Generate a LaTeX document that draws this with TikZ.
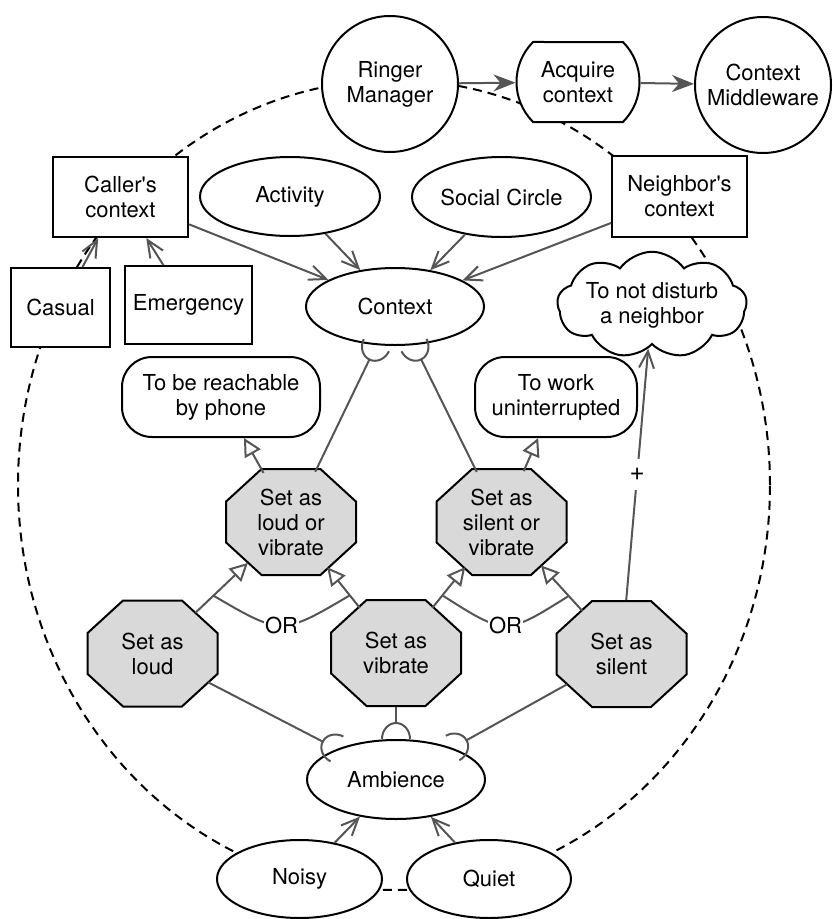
\documentclass[tikz,border=0pt]{standalone}
\usepackage{fontspec}
\setmainfont{TeX Gyre Heros}
\usetikzlibrary{shapes.geometric,shapes.misc,shapes.symbols,arrows.meta,calc}
\definecolor{linegray}{RGB}{85,85,85}
\definecolor{taskfill}{RGB}{217,217,217}

% octagon with unequal width and height; borders follow the inscribed ellipse
\makeatletter
\newdimen\octrx \newdimen\octry \newdimen\octax \newdimen\octay
\newdimen\octox \newdimen\octoy
\pgfdeclareshape{octabox}{%
  \inheritsavedanchors[from=ellipse]%
  \inheritanchor[from=ellipse]{center}%
  \inheritanchor[from=ellipse]{north}%
  \inheritanchor[from=ellipse]{south}%
  \inheritanchor[from=ellipse]{east}%
  \inheritanchor[from=ellipse]{west}%
  \inheritanchorborder[from=ellipse]%
  \backgroundpath{%
    \pgf@process{\radius}%
    \octrx=\pgf@x \octry=\pgf@y
    \pgfmathsetlength\octox{\pgfkeysvalueof{/pgf/outer xsep}}%
    \pgfmathsetlength\octoy{\pgfkeysvalueof{/pgf/outer ysep}}%
    \advance\octrx by -\octox
    \advance\octry by -\octoy
    \octax=0.453\octrx
    \octay=0.385\octry
    \pgfpathmoveto{\pgfpointadd{\centerpoint}{\pgfqpoint{\octax}{\octry}}}%
    \pgfpathlineto{\pgfpointadd{\centerpoint}{\pgfqpoint{\octrx}{\octay}}}%
    \pgfpathlineto{\pgfpointadd{\centerpoint}{\pgfqpoint{\octrx}{-\octay}}}%
    \pgfpathlineto{\pgfpointadd{\centerpoint}{\pgfqpoint{\octax}{-\octry}}}%
    \pgfpathlineto{\pgfpointadd{\centerpoint}{\pgfqpoint{-\octax}{-\octry}}}%
    \pgfpathlineto{\pgfpointadd{\centerpoint}{\pgfqpoint{-\octrx}{-\octay}}}%
    \pgfpathlineto{\pgfpointadd{\centerpoint}{\pgfqpoint{-\octrx}{\octay}}}%
    \pgfpathlineto{\pgfpointadd{\centerpoint}{\pgfqpoint{-\octax}{\octry}}}%
    \pgfpathclose
  }%
}
\makeatother

% half-circle socket at the end of a dependency line
\pgfdeclarearrow{
  name = Cup,
  setup code = {
    \pgfarrowssettipend{0pt}
    \pgfarrowssetlineend{-15pt}
    \pgfarrowssetbackend{-16pt}
  },
  drawing code = {
    \pgfpathmoveto{\pgfqpoint{0pt}{14pt}}
    \pgfpatharc{90}{270}{16pt and 14pt}
    \pgfusepathqstroke
  },
}

\tikzset{
  ent/.style={draw=black, fill=white, line width=2pt, align=center, inner sep=0pt},
  boxnode/.style={ent, rectangle},
  ovalnode/.style={ent, ellipse},
  roundnode/.style={ent, circle, minimum size=136pt},
  goalnode/.style={ent, rectangle, rounded corners=30pt, minimum height=80pt},
  tasknode/.style={ent, octabox, fill=taskfill, minimum width=130pt, minimum height=106pt},
  link/.style={draw=linegray, line width=2pt},
  feeds/.style={link, -{Straight Barb[length=17pt, width=15pt, line width=2pt]}},
  refines/.style={link, -{Triangle[open, length=18pt, width=18pt, fill=white, line width=2pt]}},
  socket/.style={link, -{Cup}},
  flow/.style={link, -{Stealth[length=22pt, width=17pt, inset=7pt]}},
  tag/.style={draw=none, fill=white, inner sep=1pt},
}

\begin{document}
\begin{tikzpicture}[x=1pt, y=-1pt, font=\fontsize{22}{25}\selectfont]
\useasboundingbox (0,0) rectangle (833,919);

% system boundary
\draw[black, line width=2pt, dash pattern=on 9pt off 6pt]
  (394,485) ellipse [x radius=376pt, y radius=405pt];

% actors and the context task
\node[roundnode] (rm) at (390,84) {Ringer\\Manager};
\node[ent, rounded rectangle, rounded rectangle arc length=90,
      minimum width=123pt, minimum height=80pt] (acq) at (578,82) {Acquire\\context};
\node[roundnode] (cm) at (763,85) {Context\\Middleware};

% context sources
\node[boxnode, minimum width=135pt, minimum height=80pt] (caller) at (120.5,197) {Caller\textquotesingle s\\context};
\node[boxnode, minimum width=99pt, minimum height=79pt] (casual) at (60.5,307.5) {Casual};
\node[boxnode, minimum width=127pt, minimum height=78pt] (emerg) at (188.5,305) {Emergency};
\node[ovalnode, minimum width=180pt, minimum height=79pt] (act) at (290,196.5) {Activity};
\node[ovalnode, minimum width=179pt, minimum height=80pt] (social) at (501.5,197) {Social Circle};
\node[boxnode, minimum width=135pt, minimum height=81pt] (neigh) at (679.5,196.5) {Neighbor\textquotesingle s\\context};
\node[ovalnode, minimum width=178pt, minimum height=77pt] (ctx) at (395,306.5) {Context};

% goals
\node[ent, cloud, cloud puffs=9, cloud puff arc=110, aspect=2.4,
      minimum width=178pt, minimum height=74pt] (calm) at (652,305) {To not disturb\\a neighbor};
\node[goalnode, minimum width=198pt] (reach) at (221,397) {To be reachable\\by phone};
\node[goalnode, minimum width=162pt] (work) at (556,397) {To work\\uninterrupted};

% ringer tasks
\node[tasknode] (lov) at (291,522) {Set as\\loud or\\vibrate};
\node[tasknode] (sov) at (501.5,522) {Set as\\silent or\\vibrate};
\node[tasknode] (loud) at (152.5,653.5) {Set as\\loud};
\node[tasknode] (vib) at (396,653) {Set as\\vibrate};
\node[tasknode] (sil) at (621.5,654) {Set as\\silent};

% ambience
\node[ovalnode, minimum width=178pt, minimum height=79pt] (amb) at (396,779.5) {Ambience};
\node[ovalnode, minimum width=165pt, minimum height=78pt] (noisy) at (299.5,879) {Noisy};
\node[ovalnode, minimum width=164pt, minimum height=78pt] (quiet) at (489,879) {Quiet};

% acquisition flow
\draw[flow] (rm) -- (acq);
\draw[flow] (acq) -- (cm);

% context composition
\draw[feeds] (casual) -- (caller);
\draw[feeds] (emerg) -- (caller);
\draw[feeds] (caller) -- (ctx);
\draw[feeds] (act) -- (ctx);
\draw[feeds] (social) -- (ctx);
\draw[feeds] (neigh) -- (ctx);
\draw[feeds] (noisy) -- (amb);
\draw[feeds] (quiet) -- (amb);

% dependencies on context and ambience
\draw[socket] (lov) -- (ctx);
\draw[socket] (sov) -- (ctx);
\draw[socket] (loud) -- (amb);
\draw[socket] (vib) -- (amb);
\draw[socket] (sil) -- (amb);

% refinements
\draw[refines] (lov) -- (reach);
\draw[refines] (sov) -- (work);
\draw[refines] (loud) -- (lov);
\draw[refines] (vib) -- (lov);
\draw[refines] (vib) -- (sov);
\draw[refines] (sil) -- (sov);

% OR groupings
\coordinate (o1) at ($(loud)!0.44!(lov)$);
\coordinate (o2) at ($(vib)!0.44!(lov)$);
\coordinate (o3) at ($(vib)!0.44!(sov)$);
\coordinate (o4) at ($(sil)!0.44!(sov)$);
\draw[link] (o1) .. controls ($(o1)!0.5!(o2)+(0,40)$) .. (o2) node[tag, pos=0.5] {OR};
\draw[link] (o3) .. controls ($(o3)!0.5!(o4)+(0,40)$) .. (o4) node[tag, pos=0.5] {OR};

% contribution
\draw[feeds] (sil) -- (calm)
  node[tag, pos=0.5, inner sep=9pt, font=\fontsize{26}{26}\selectfont] {+};
\end{tikzpicture}
\end{document}
